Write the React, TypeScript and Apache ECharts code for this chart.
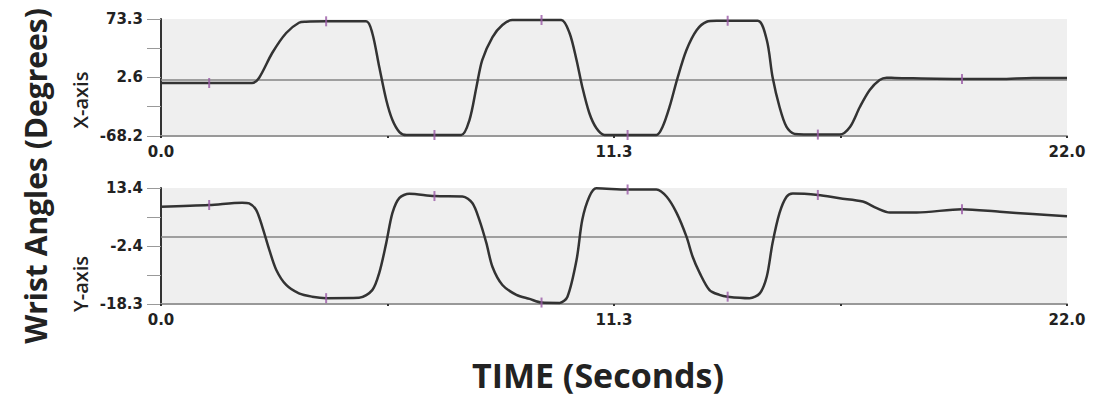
import React, { useEffect, useRef } from "react";
import * as echarts from "echarts";

// ---- Data ----
const timeX = [0, 1.17, 2.21, 2.38, 2.7, 3.04, 3.35, 3.52, 4.01, 4.98, 5.13, 5.3, 5.47, 5.62, 5.79, 5.96, 6.64, 7.29, 7.49, 7.66, 7.8, 8.05, 8.29, 8.53, 9.24, 9.72, 9.92, 10.09, 10.23, 10.4, 10.57, 10.77, 11.33, 12.03, 12.18, 12.35, 12.54, 12.76, 13.01, 13.25, 13.49, 13.76, 14.49, 14.71, 14.85, 15.02, 15.19, 15.39, 15.95, 16.48, 16.73, 16.97, 17.21, 17.45, 17.62, 17.82, 19.45, 20.37, 21.17, 22.0];
const angleX = [-4.1, -4.1, -4.1, 2.0, 32.2, 56.4, 68.8, 70.0, 70.5, 70.5, 56.4, 15.2, -24.7, -48.9, -63.4, -67.0, -67.0, -67.0, -48.9, -8.9, 23.7, 51.5, 66.0, 72.1, 72.1, 72.1, 56.4, 23.7, -8.9, -40.4, -58.5, -67.0, -67.0, -67.0, -57.0, -32.8, 1.6, 35.8, 60.0, 70.0, 71.2, 71.2, 71.2, 47.9, 3.2, -33.1, -57.3, -65.8, -66.5, -66.5, -57.3, -33.1, -12.6, -0.5, 2.3, 2.0, 0.7, 0.7, 2.0, 2.0];

const timeY = [0, 1.17, 1.97, 2.14, 2.31, 2.46, 2.63, 2.8, 3.04, 3.35, 3.67, 4.01, 4.81, 5.13, 5.3, 5.47, 5.62, 5.79, 6.03, 6.64, 7.32, 7.56, 7.73, 7.9, 8.05, 8.29, 8.63, 8.95, 9.24, 9.68, 9.87, 10.09, 10.23, 10.4, 10.57, 11.33, 12.03, 12.28, 12.52, 12.76, 12.91, 13.08, 13.32, 13.56, 13.76, 14.29, 14.54, 14.71, 14.85, 15.02, 15.19, 15.34, 15.95, 16.48, 17.04, 17.38, 17.7, 18.35, 19.45, 20.37, 21.17, 22.0];
const angleY = [8.3, 8.75, 9.4, 9.2, 7.4, 2.8, -3.5, -9.0, -13.1, -15.4, -16.3, -16.7, -16.6, -14.5, -9.8, -1.6, 6.6, 10.7, 11.8, 11.2, 11.1, 9.3, 4.7, -1.6, -8.2, -13.1, -15.8, -16.9, -17.9, -18.0, -16.3, -6.3, 4.7, 11.0, 13.3, 13.0, 13.0, 11.0, 6.6, 0.1, -5.4, -9.8, -14.5, -15.8, -16.3, -16.7, -15.4, -10.8, -1.6, 6.6, 11.0, 11.9, 11.5, 10.6, 9.7, 7.9, 6.7, 6.7, 7.6, 6.9, 6.3, 5.7];

const markerTimes = [1.17, 4.01, 6.64, 9.24, 11.33, 13.76, 15.95, 19.45];
const markerX = [-4.1, 70.5, -67.0, 72.1, -67.0, 71.2, -66.5, 0.7];
const markerY = [8.75, -16.7, 11.2, -17.9, 13.0, -16.3, 11.5, 7.6];

const xTickValues = [0, 5.5, 11, 16.5, 22];
const xLabelValues = [0, 11, 22];
const xLabelTexts = ["0.0", "11.3", "22.0"];

const yXRange = [-68.2, 73.3];
const yXTicks = [73.3, 37.95, 2.6, -32.8, -68.2];
const yXLabels = [73.3, 2.6, -68.2];

const yYRange = [-18.3, 13.4];
const yYTicks = [13.4, 5.45, -2.4, -10.35, -18.3];
const yYLabels = [13.4, -2.4, -18.3];

const FONT = "'Open Sans', 'DejaVu Sans', sans-serif";
const TICK_FONT = "'DejaVu Sans', sans-serif";

function pairs(a: number[], b: number[]) {
  return a.map((t, i) => [t, b[i]]);
}

function xAxisCfg(gridIndex: number) {
  return {
    type: "value",
    gridIndex,
    min: 0,
    max: 22,
    axisLine: { show: true, onZero: false, lineStyle: { color: "#999", width: 2 } },
    axisTick: { show: true, customValues: xTickValues, length: 2, lineStyle: { color: "#333", width: 2 } },
    axisLabel: {
      customValues: xLabelValues,
      formatter: (v: number) => xLabelTexts[xLabelValues.indexOf(v)] ?? "",
      margin: 8,
      color: "#222",
      fontWeight: "bold",
      fontSize: 15,
      fontFamily: TICK_FONT,
    },
    splitLine: { show: false },
  };
}

function yAxisCfg(gridIndex: number, range: number[], ticks: number[], labels: number[]) {
  return {
    type: "value",
    gridIndex,
    min: range[0],
    max: range[1],
    axisLine: { show: true, lineStyle: { color: "#333", width: 2 } },
    axisTick: { show: true, customValues: ticks, length: 14, lineStyle: { color: "#999", width: 1 } },
    axisLabel: {
      customValues: labels,
      formatter: (v: number) => v.toFixed(1),
      margin: 18,
      color: "#222",
      fontWeight: "bold",
      fontSize: 15,
      fontFamily: TICK_FONT,
    },
    splitLine: { show: false },
  };
}

function lineSeries(idx: number, data: number[][]) {
  return {
    type: "line",
    xAxisIndex: idx,
    yAxisIndex: idx,
    data,
    showSymbol: false,
    smooth: 0.3,
    lineStyle: { color: "#333", width: 2.5 },
    z: 3,
    markLine: {
      silent: true,
      symbol: ["none", "none"],
      label: { show: false },
      lineStyle: { color: "#858585", width: 1.5, type: "solid" },
      data: [{ yAxis: 0 }],
      z: 2,
    },
  };
}

function markerSeries(idx: number, data: number[][]) {
  return {
    type: "scatter",
    xAxisIndex: idx,
    yAxisIndex: idx,
    data,
    symbol: "rect",
    symbolSize: [2, 10],
    itemStyle: { color: "#9a5aa6" },
    z: 4,
  };
}

export default function App() {
  const ref = useRef<HTMLDivElement>(null);
  useEffect(() => {
    if (!ref.current) return;
    const chart = echarts.init(ref.current, null, { renderer: "svg" });
    chart.setOption({
      animation: false,
      backgroundColor: "#ffffff",
      grid: [
        { left: 161, right: 28, top: 19, height: 117, show: true, backgroundColor: "#efefef", borderWidth: 0 },
        { left: 161, right: 28, top: 188, height: 116, show: true, backgroundColor: "#efefef", borderWidth: 0 },
      ],
      xAxis: [xAxisCfg(0), xAxisCfg(1)],
      yAxis: [yAxisCfg(0, yXRange, yXTicks, yXLabels), yAxisCfg(1, yYRange, yYTicks, yYLabels)],
      series: [
        lineSeries(0, pairs(timeX, angleX)),
        markerSeries(0, pairs(markerTimes, markerX)),
        lineSeries(1, pairs(timeY, angleY)),
        markerSeries(1, pairs(markerTimes, markerY)),
      ],
      graphic: [
        {
          type: "text",
          x: 35,
          y: 176,
          rotation: Math.PI / 2,
          style: {
            text: "Wrist Angles (Degrees)",
            font: `bold 30px ${FONT}`,
            fill: "#222",
            align: "center",
            verticalAlign: "middle",
          },
        },
        {
          type: "text",
          x: 80,
          y: 100,
          rotation: Math.PI / 2,
          style: {
            text: "X-axis",
            font: `600 20px ${FONT}`,
            fill: "#222",
            align: "center",
            verticalAlign: "middle",
          },
        },
        {
          type: "text",
          x: 80,
          y: 284,
          rotation: Math.PI / 2,
          style: {
            text: "Y-axis",
            font: `600 20px ${FONT}`,
            fill: "#222",
            align: "center",
            verticalAlign: "middle",
          },
        },
        {
          type: "text",
          x: 598,
          y: 375,
          style: {
            text: "TIME (Seconds)",
            font: `bold 34px ${FONT}`,
            fill: "#222",
            align: "center",
            verticalAlign: "middle",
          },
        },
      ],
    });
    return () => chart.dispose();
  }, []);
  return (
    <div
      ref={ref}
      style={{ position: "absolute", left: 0, top: 0, width: 1095, height: 398 }}
    />
  );
}
